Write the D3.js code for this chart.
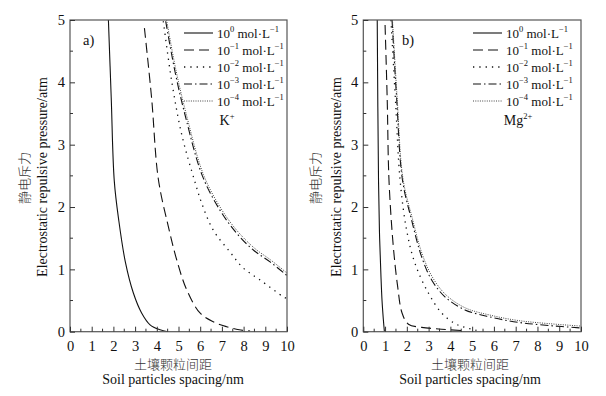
<!DOCTYPE html>
<html><head><meta charset="utf-8">
<script src="https://cdn.jsdelivr.net/npm/d3@7"></script>
<style>body{margin:0;background:#fff}svg{display:block}</style>
</head><body>
<svg id="c" width="606" height="396"></svg>
<script>
// ---- data ----
const xTicks = [0,1,2,3,4,5,6,7,8,9,10];
const yTicks = [0,1,2,3,4,5];
const seriesLabels = ["0","-1","-2","-3","-4"];
const panelTags = ["a)","b)"];
const ionLabels = ["K","Mg"];
const ionCharges = ["+","2+"];

// K+ panel
const k0x = [1.77,1.90,2.04,2.25,2.55,2.92,3.3,3.69,4.15,4.5];
const k0y = [5,3.75,2.42,1.78,1.12,0.62,0.30,0.11,0.03,0.0];
const k1x = [3.43,3.76,4.07,4.53,4.92,5.38,5.99,6.6,7.22,7.8,8.3];
const k1y = [4.87,3.75,2.45,1.69,1.15,0.67,0.30,0.16,0.08,0.03,0.01];
const k2x = [4.3,4.69,5.15,5.76,6.07,6.6,7.37,7.99,8.76,9.83,10];
const k2y = [4.98,4.01,3.16,2.40,2.06,1.63,1.28,1.02,0.83,0.56,0.53];
const k3x = [4.41,4.84,5.3,6.1,6.91,7.68,8.45,9.22,9.9,10];
const k3y = [4.98,4.17,3.48,2.5,1.95,1.58,1.31,1.12,0.93,0.90];
const k4x = [4.45,4.88,5.35,6.15,6.95,7.7,8.5,9.25,10];
const k4y = [5,4.2,3.5,2.52,1.98,1.62,1.34,1.15,0.94];

// Mg2+ panel
const m0x = [0.64,0.70,0.75,0.81,0.86,0.92,0.97];
const m0y = [5,2.4,1.5,0.9,0.5,0.2,0];
const m1x = [1.0,1.1,1.18,1.38,1.58,1.78,2.07,2.68,3.6,4.5];
const m1y = [4.92,3.7,2.43,1.36,0.72,0.30,0.12,0.07,0.04,0.02];
const m2x = [1.27,1.48,1.69,1.99,2.37,2.99,3.6,4.21,4.67,5.2];
const m2y = [5,3.7,2.43,1.63,1.10,0.62,0.30,0.13,0.07,0.02];
const m3x = [1.32,1.53,1.8,2.22,2.68,3.14,3.75,4.67,5.9,7.12,8.5,10];
const m3y = [5,3.75,2.43,1.79,1.2,0.83,0.56,0.35,0.23,0.15,0.1,0.06];
const m4x = [1.34,1.55,1.82,2.25,2.72,3.2,3.8,4.7,5.9,7.1,8.5,10];
const m4y = [5,3.78,2.46,1.82,1.23,0.86,0.59,0.38,0.26,0.18,0.13,0.09];

// ---- drawing ----
const styles = [
  {dash:null, w:1.1, c:"#111"},
  {dash:"10,5", w:1.1, c:"#111"},
  {dash:"1.3,5", w:1.3, c:"#111"},
  {dash:"8,3,1.5,3", w:1.1, c:"#111"},
  {dash:"1,1.3", w:1, c:"#444"}
];
const serif = "'Liberation Serif','Times New Roman',serif";
const cjk = "'Noto Sans CJK SC','Noto Sans CJK JP',sans-serif";
const svg = d3.select("#c");

const panels = [
  {x0:70, x1:287, series:[[k0x,k0y],[k1x,k1y],[k2x,k2y],[k3x,k3y],[k4x,k4y]],
   legX:184, tagX:83, ylabCn:23, ylabEn:42, xlabC:173},
  {x0:363.3, x1:581, series:[[m0x,m0y],[m1x,m1y],[m2x,m2y],[m3x,m3y],[m4x,m4y]],
   legX:473, tagX:402, ylabCn:314, ylabEn:336, xlabC:470}
];
const yTop = 20, yBot = 331.7;

panels.forEach((p, pi) => {
  const x = d3.scaleLinear().domain([0,10]).range([p.x0, p.x1]);
  const y = d3.scaleLinear().domain([0,5]).range([yBot, yTop]);
  const g = svg.append("g");
  const clipId = "clip" + pi;
  svg.append("clipPath").attr("id", clipId).append("rect")
    .attr("x", p.x0).attr("y", yTop).attr("width", p.x1 - p.x0).attr("height", yBot - yTop);

  // curves
  const line = d3.line().x(d => x(d[0])).y(d => y(d[1])).curve(d3.curveCatmullRom.alpha(0.5));
  p.series.forEach((s, i) => {
    const pts = s[0].map((v, j) => [v, s[1][j]]);
    g.append("path").attr("d", line(pts)).attr("fill", "none")
      .attr("stroke", styles[i].c).attr("stroke-width", styles[i].w)
      .attr("stroke-dasharray", styles[i].dash)
      .attr("clip-path", `url(#${clipId})`);
  });

  // frame
  g.append("rect").attr("x", p.x0).attr("y", yTop).attr("width", p.x1 - p.x0)
    .attr("height", yBot - yTop).attr("fill", "none").attr("stroke", "#555").attr("stroke-width", 1.2);

  // x axis (inward ticks)
  const xa = g.append("g").attr("transform", `translate(0,${yBot})`)
    .call(d3.axisBottom(x).tickValues(xTicks).tickSize(-5).tickPadding(9).tickFormat(d3.format("d")));
  xa.attr("font-family", null).attr("font-size", null);
  xa.select(".domain").remove();
  xa.selectAll("text").style("font-family", serif).style("font-size", "14.5px").attr("fill", "#111");
  xa.selectAll("line").attr("stroke", "#333");
  d3.range(0.5, 10, 1).forEach(v => g.append("line").attr("x1", x(v)).attr("x2", x(v))
    .attr("y1", yBot).attr("y2", yBot - 3).attr("stroke", "#333"));

  // y axis
  const ya = g.append("g").attr("transform", `translate(${p.x0},0)`)
    .call(d3.axisLeft(y).tickValues(yTicks).tickSize(-5).tickPadding(5).tickFormat(d3.format("d")));
  ya.attr("font-family", null).attr("font-size", null);
  ya.select(".domain").remove();
  ya.selectAll("text").style("font-family", serif).style("font-size", "14.5px").attr("fill", "#111");
  ya.selectAll("line").attr("stroke", "#333");
  d3.range(0.5, 5, 1).forEach(v => g.append("line").attr("x1", p.x0).attr("x2", p.x0 + 3)
    .attr("y1", y(v)).attr("y2", y(v)).attr("stroke", "#333"));

  // panel tag
  g.append("text").attr("x", p.tagX).attr("y", 45).text(panelTags[pi])
    .style("font-family", serif).style("font-size", "14.5px").attr("fill", "#111");

  // legend
  const rowY = [33, 50, 67, 84, 101];
  seriesLabels.forEach((lab, i) => {
    g.append("line").attr("x1", p.legX).attr("x2", p.legX + 29)
      .attr("y1", rowY[i]).attr("y2", rowY[i])
      .attr("stroke", styles[i].c).attr("stroke-width", styles[i].w)
      .attr("stroke-dasharray", styles[i].dash);
    const t = g.append("text").attr("x", p.legX + 33).attr("y", rowY[i] + 4.5)
      .style("font-family", serif).style("font-size", "13px").attr("fill", "#111");
    t.append("tspan").text("10");
    t.append("tspan").text(lab.replace("-", "\u2212")).style("font-size", "8.5px").attr("dy", -6);
    t.append("tspan").text(" mol\u00b7L").style("font-size", "13px").attr("dy", 6);
    t.append("tspan").text("\u22121").style("font-size", "8.5px").attr("dy", -6);
  });
  const ion = g.append("text").attr("x", p.legX + 43 + (pi ? 2 : 0)).attr("y", 125)
    .style("font-family", serif).style("font-size", "14px").attr("fill", "#111").attr("text-anchor", "middle");
  ion.append("tspan").text(ionLabels[pi]);
  ion.append("tspan").text(ionCharges[pi]).style("font-size", "8.5px").attr("dy", -6);

  // axis titles
  g.append("text").attr("transform", `translate(${p.ylabCn},178) rotate(-90)`)
    .attr("text-anchor", "middle").attr("dominant-baseline", "central")
    .style("font-family", cjk).style("font-size", "13px").style("font-weight", 300)
    .attr("fill", "#333").text("静电斥力");
  g.append("text").attr("transform", `translate(${p.ylabEn},177) rotate(-90)`)
    .attr("text-anchor", "middle").attr("dominant-baseline", "central")
    .style("font-family", serif).style("font-size", "14px").attr("fill", "#111")
    .text("Electrostatic repulsive pressure/atm");
  g.append("text").attr("x", p.xlabC).attr("y", 363).attr("text-anchor", "middle")
    .attr("dominant-baseline", "central").style("font-family", cjk).style("font-size", "13px")
    .style("font-weight", 300).attr("fill", "#333").text("土壤颗粒间距");
  g.append("text").attr("x", p.xlabC).attr("y", 379).attr("text-anchor", "middle")
    .attr("dominant-baseline", "central").style("font-family", serif).style("font-size", "14px")
    .attr("fill", "#111").text("Soil particles spacing/nm");
});
</script>
</body></html>
